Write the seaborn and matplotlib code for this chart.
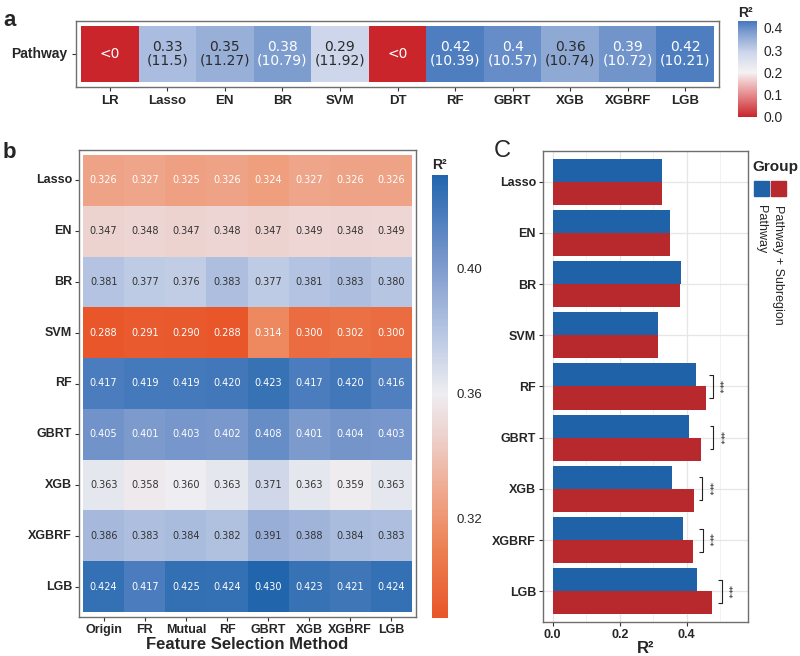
import numpy as np
import pandas as pd
import matplotlib.pyplot as plt
import seaborn as sns
from matplotlib.colors import LinearSegmentedColormap
from matplotlib.ticker import MultipleLocator

sns.set_style("white")
plt.rcParams['font.family'] = ['Liberation Sans', 'DejaVu Sans']

# ---- panel a: Pathway-only models, R2 and (RMSE); None = R2 < 0
a_models = ['LR', 'Lasso', 'EN', 'BR', 'SVM', 'DT', 'RF', 'GBRT', 'XGB', 'XGBRF', 'LGB']
a_r2 = [None, 0.33, 0.35, 0.38, 0.29, None, 0.42, 0.4, 0.36, 0.39, 0.42]
a_rmse = [None, 11.5, 11.27, 10.79, 11.92, None, 10.39, 10.57, 10.74, 10.72, 10.21]

# ---- panel b: R2 by model (rows) and feature selection method (columns)
b_models = ['Lasso', 'EN', 'BR', 'SVM', 'RF', 'GBRT', 'XGB', 'XGBRF', 'LGB']
b_methods = ['Origin', 'FR', 'Mutual', 'RF', 'GBRT', 'XGB', 'XGBRF', 'LGB']
b_lasso = [0.326, 0.327, 0.325, 0.326, 0.324, 0.327, 0.326, 0.326]
b_en = [0.347, 0.348, 0.347, 0.348, 0.347, 0.349, 0.348, 0.349]
b_br = [0.381, 0.377, 0.376, 0.383, 0.377, 0.381, 0.383, 0.380]
b_svm = [0.288, 0.291, 0.290, 0.288, 0.314, 0.300, 0.302, 0.300]
b_rf = [0.417, 0.419, 0.419, 0.420, 0.423, 0.417, 0.420, 0.416]
b_gbrt = [0.405, 0.401, 0.403, 0.402, 0.408, 0.401, 0.404, 0.403]
b_xgb = [0.363, 0.358, 0.360, 0.363, 0.371, 0.363, 0.359, 0.363]
b_xgbrf = [0.386, 0.383, 0.384, 0.382, 0.391, 0.388, 0.384, 0.383]
b_lgb = [0.424, 0.417, 0.425, 0.424, 0.430, 0.423, 0.421, 0.424]

# ---- panel C: Pathway vs Pathway + Subregion
c_models = b_models
c_pathway = [0.327, 0.351, 0.382, 0.315, 0.427, 0.407, 0.357, 0.389, 0.431]
c_subregion = [0.327, 0.350, 0.380, 0.315, 0.457, 0.444, 0.421, 0.419, 0.475]
sig_models = ['RF', 'GBRT', 'XGB', 'XGBRF', 'LGB']
sig_x = [0.478, 0.479, 0.446, 0.448, 0.504]

W, H = 800, 656


def box(l, t, r, b):
    return [l / W, 1 - b / H, (r - l) / W, (b - t) / H]


def node_cmap(name, vmin, vmax, nodes):
    pts = [((v - vmin) / (vmax - vmin), c) for v, c in nodes]
    return LinearSegmentedColormap.from_list(name, pts)


fig = plt.figure(figsize=(8, 6.56), dpi=100)
border = '#6E6E6E'

# ================= panel a =================
a_vmin, a_vmax = 0.0, 0.43
cmap_a = node_cmap('a', a_vmin, a_vmax, [
    (0.00, '#C9252B'), (0.10, '#E68A8D'), (0.20, '#F6F2F3'),
    (0.29, '#CDD6EB'), (0.33, '#AABCDF'), (0.38, '#7E9ECF'), (0.43, '#4677BD')])
vals_a = np.array([[0.0 if v is None else v for v in a_r2]])
axa = fig.add_axes(box(76, 21, 719, 87))
cba = fig.add_axes(box(738, 21, 757, 117))
sns.heatmap(pd.DataFrame(vals_a, index=['Pathway'], columns=a_models), ax=axa,
            cmap=cmap_a, vmin=a_vmin, vmax=a_vmax, cbar_ax=cba,
            cbar_kws={'ticks': [0.0, 0.1, 0.2, 0.3, 0.4]})
for i, (r, e) in enumerate(zip(a_r2, a_rmse)):
    if r is None:
        lab, col = '<0', 'white'
    else:
        lab = f'{r}\n({e})'
        col = 'white' if r >= 0.37 else '#2B2B2B'
    axa.text(i + 0.5, 0.5, lab, ha='center', va='center', color=col,
             fontsize=10, family='DejaVu Sans', linespacing=1.0)
axa.set_xlim(-0.087, 11.087)
axa.set_ylim(1.09, -0.09)
axa.set_xlabel('')
axa.set_ylabel('')
axa.set_xticks(np.arange(11) + 0.5)
axa.set_xticklabels(a_models, fontsize=9.5, fontweight='bold', rotation=0)
axa.set_yticks([0.5])
axa.set_yticklabels(['Pathway'], fontsize=10, fontweight='bold', rotation=0)
axa.tick_params(length=3, width=0.8, color='#333333', pad=3, bottom=True, left=True)
for s in axa.spines.values():
    s.set_visible(True)
    s.set_color(border)
    s.set_linewidth(1.0)
cba.set_yticklabels(['0.0', '0.1', '0.2', '0.3', '0.4'])
cba.tick_params(direction='in', color='white', length=3, width=0.6, left=True, right=True,
                labelsize=10, pad=5)
cba.set_title('R²', loc='left', fontsize=10, fontweight='bold', pad=3)

fig.text(3 / W, 1 - 20 / H, 'a', fontsize=16, fontweight='bold', va='center', ha='left')

# ================= panel b =================
b_vmin, b_vmax = 0.288, 0.430
cmap_b = node_cmap('b', b_vmin, b_vmax, [
    (0.288, '#E8562A'), (0.310, '#EC8053'), (0.326, '#EFA386'), (0.347, '#EDD3D0'),
    (0.360, '#EEEDF1'), (0.380, '#B6C5E2'), (0.403, '#7896CB'), (0.417, '#4C7DBE'),
    (0.430, '#2166AC')])
df_b = pd.DataFrame([b_lasso, b_en, b_br, b_svm, b_rf, b_gbrt, b_xgb, b_xgbrf, b_lgb],
                    index=b_models, columns=b_methods)
axb = fig.add_axes(box(79, 150, 416, 617))
cbb = fig.add_axes(box(432, 175, 448, 618))
sns.heatmap(df_b, ax=axb, cmap=cmap_b, vmin=b_vmin, vmax=b_vmax, cbar_ax=cbb,
            cbar_kws={'ticks': [0.32, 0.36, 0.40]})
for r in range(df_b.shape[0]):
    for c in range(df_b.shape[1]):
        v = df_b.iat[r, c]
        col = 'white' if (v < 0.335 or v > 0.395) else '#333333'
        axb.text(c + 0.5, r + 0.5, f'{v:.3f}', ha='center', va='center', color=col,
                 fontsize=7, family='DejaVu Sans')
axb.set_xlim(-0.1, 8.1)
axb.set_ylim(9.1, -0.1)
axb.set_ylabel('')
axb.set_xticks(np.arange(8) + 0.5)
axb.set_xticklabels(b_methods, fontsize=9, fontweight='bold', rotation=0)
axb.set_yticks(np.arange(9) + 0.5)
axb.set_yticklabels(b_models, fontsize=9, fontweight='bold', rotation=0)
axb.set_xlabel('Feature Selection Method', fontsize=12, fontweight='bold', labelpad=1)
axb.tick_params(length=3, width=0.8, color='#333333', pad=2, bottom=True, left=True)
for s in axb.spines.values():
    s.set_visible(True)
    s.set_color(border)
    s.set_linewidth(1.0)
cbb.set_yticklabels(['0.32', '0.36', '0.40'])
cbb.tick_params(direction='in', color='white', length=3, width=0.6, left=True, right=True,
                labelsize=9.5, pad=6)
cbb.set_title('R²', loc='left', fontsize=10, fontweight='bold', pad=4)

fig.text(3 / W, 1 - 153 / H, 'b', fontsize=16, fontweight='bold', va='center', ha='left')

# ================= panel C =================
groups = ['Pathway', 'Pathway + Subregion']
palette = {'Pathway': '#1F62A7', 'Pathway + Subregion': '#B8292E'}
df_c = pd.DataFrame({
    'model': c_models * 2,
    'group': [groups[0]] * len(c_models) + [groups[1]] * len(c_models),
    'r2': c_pathway + c_subregion,
})
axc = fig.add_axes(box(543, 151, 748, 622))
sns.barplot(data=df_c, x='r2', y='model', hue='group', hue_order=groups, palette=palette,
            orient='h', width=0.9, gap=0, saturation=1, errorbar=None, legend=False,
            linewidth=0, ax=axc)
axc.set_xlim(-0.029, 0.583)
axc.set_ylim(8.6, -0.6)
axc.set_axisbelow(True)
axc.xaxis.set_major_locator(MultipleLocator(0.2))
axc.xaxis.set_minor_locator(MultipleLocator(0.1))
axc.grid(True, which='major', color='#E6E6E6', lw=0.9)
axc.grid(True, which='minor', axis='x', color='#F0F0F0', lw=0.6)
axc.set_xticks([0.0, 0.2, 0.4])
axc.set_xticklabels(['0.0', '0.2', '0.4'], fontsize=9, fontweight='bold')
axc.set_yticks(range(len(c_models)))
axc.set_yticklabels(c_models, fontsize=9, fontweight='bold')
axc.set_ylabel('')
axc.set_xlabel('R²', fontsize=12, fontweight='bold', labelpad=0)
axc.tick_params(which='major', length=3, width=0.8, color='#333333', pad=2,
                bottom=True, left=True)
axc.tick_params(which='minor', length=0)
for s in axc.spines.values():
    s.set_visible(True)
    s.set_color(border)
    s.set_linewidth(1.0)

for m, x in zip(sig_models, sig_x):
    i = c_models.index(m)
    axc.plot([x - 0.01, x, x, x - 0.01], [i - 0.225, i - 0.225, i + 0.225, i + 0.225],
             color='#222222', lw=0.8, solid_capstyle='butt')
    axc.text(x + 0.017, i, '***', rotation=270, ha='center', va='center',
             fontsize=6.5, family='DejaVu Sans', color='#222222')

fig.text(494 / W, 1 - 151 / H, 'C', fontsize=17, va='center', ha='left')

# legend for panel C
fig.text(752 / W, 1 - 167 / H, 'Group', fontsize=11, fontweight='bold', va='center', ha='left')
for k, g in enumerate(groups):
    x0 = 754 + k * 17
    fig.patches.append(plt.Rectangle((x0 / W, 1 - 196 / H), 15 / W, 15 / H,
                                     transform=fig.transFigure, color=palette[g]))
    fig.text((x0 + 7.5) / W, 1 - 205 / H, g, rotation=270, fontsize=9,
             ha='center', va='top')

plt.savefig('out.png', dpi=100)
